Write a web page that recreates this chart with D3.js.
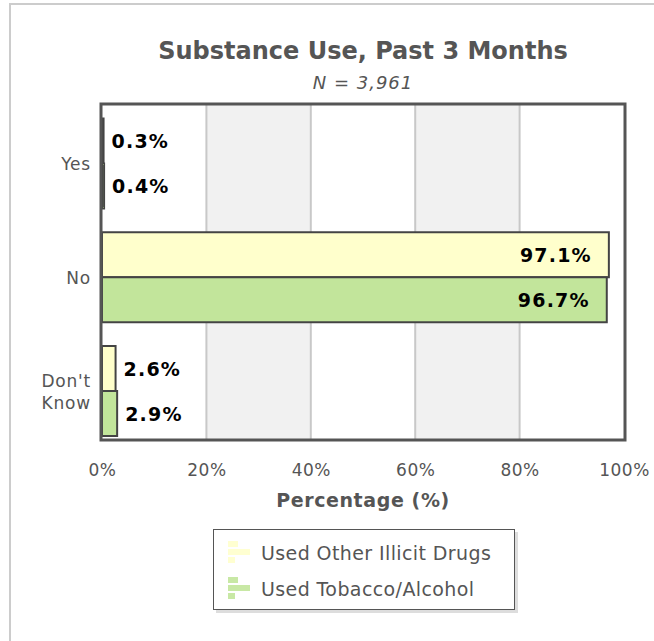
<!DOCTYPE html>
<html><head><meta charset="utf-8">
<script src="https://cdn.jsdelivr.net/npm/d3@7"></script>
<style>body{margin:0;background:#fff;}svg{display:block;font-family:"DejaVu Sans",Verdana,sans-serif;}</style>
</head><body>
<svg id="c" width="654" height="641"></svg>
<script>
const categories = ["Yes", "No", "Don't Know"];
const seriesNames = ["Used Other Illicit Drugs", "Used Tobacco/Alcohol"];
const illicit = [0.3, 97.1, 2.6];
const tobacco = [0.4, 96.7, 2.9];
const xTicks = [0, 20, 40, 60, 80, 100];
const colors = ["#ffffcc", "#c2e59b"];
const series = [illicit, tobacco];

const svg = d3.select("#c");
const FF = "DejaVu Sans, Verdana, sans-serif";
// outer frame
svg.append("rect").attr("x", 10).attr("y", 4).attr("width", 660).attr("height", 660)
  .attr("fill", "#fff").attr("stroke", "#cccccc").attr("stroke-width", 2);

const L = 102, R = 624, T = 105, B = 439;
const x = d3.scaleLinear().domain([0, 100]).range([L, R]);
const y = d3.scalePoint().domain(categories).range([163.5, 391]);
const barH = 45;

// bands
for (let i = 0; i < xTicks.length - 1; i++) {
  if (i % 2 === 1) svg.append("rect").attr("x", x(xTicks[i])).attr("y", T).attr("width", x(xTicks[i+1]) - x(xTicks[i])).attr("height", B - T).attr("fill", "#f1f1f1");
}
xTicks.slice(1, -1).forEach(t => svg.append("line").attr("x1", x(t)).attr("x2", x(t)).attr("y1", T).attr("y2", B).attr("stroke", "#c8c8c8").attr("stroke-width", 2));

// bars
series.forEach((vals, si) => {
  svg.append("g").selectAll("rect").data(vals).join("rect")
    .attr("x", x(0))
    .attr("y", (d, i) => y(categories[i]) - barH + si * barH)
    .attr("width", d => x(d) - x(0))
    .attr("height", barH)
    .attr("fill", colors[si])
    .attr("stroke", "#444").attr("stroke-width", 2);
  svg.append("g").selectAll("text").data(vals).join("text")
    .attr("x", d => d > 50 ? x(d) - 17 : x(d) + 8)
    .attr("y", (d, i) => y(categories[i]) - barH / 2 + si * barH + 7)
    .attr("text-anchor", d => d > 50 ? "end" : "start")
    .attr("font-size", 19).attr("letter-spacing", 1.2).attr("font-weight", "bold").attr("fill", "#000")
    .text(d => d.toFixed(1) + "%");
});

// frame
svg.append("rect").attr("x", L - 1).attr("y", T - 1).attr("width", R - L + 2).attr("height", B - T + 2)
  .attr("fill", "none").attr("stroke", "#555").attr("stroke-width", 3);

// x axis
const xa = svg.append("g").attr("transform", `translate(0,${B + 2})`)
  .call(d3.axisBottom(x).tickValues(xTicks).tickFormat(d => d + "%").tickSize(0).tickPadding(23));
xa.select(".domain").remove();
xa.selectAll("text").attr("font-size", 17).attr("letter-spacing", 0.5).attr("fill", "#555").attr("font-family", FF);

// y axis
const ya = svg.append("g").attr("transform", `translate(${L - 2},0)`)
  .call(d3.axisLeft(y).tickSize(0).tickPadding(9).tickFormat(""));
ya.select(".domain").remove();
ya.selectAll(".tick").each(function(d) {
  const lines = d === "Don't Know" ? ["Don't", "Know"] : [d];
  const t = d3.select(this).append("text").attr("text-anchor", "end").attr("fill", "#555").attr("font-size", 17).attr("letter-spacing", 0.8).attr("font-family", FF);
  lines.forEach((ln, i) => t.append("tspan").attr("x", -9).attr("y", (i - (lines.length - 1) / 2) * 22 + 6).text(ln));
});

// titles
const cx = (L + R) / 2;
svg.append("text").attr("x", cx).attr("y", 59).attr("text-anchor", "middle").attr("font-size", 24).attr("font-weight", "bold").attr("fill", "#555").text("Substance Use, Past 3 Months");
svg.append("text").attr("x", cx).attr("y", 89).attr("text-anchor", "middle").attr("font-size", 18).attr("letter-spacing", 1).attr("font-style", "italic").attr("fill", "#555").text("N = 3,961");
svg.append("text").attr("x", cx).attr("y", 507).attr("text-anchor", "middle").attr("font-size", 19).attr("letter-spacing", 0.6).attr("font-weight", "bold").attr("fill", "#555").text("Percentage (%)");

// legend
const lg = svg.append("g");
lg.append("rect").attr("x", 216).attr("y", 532).attr("width", 302).attr("height", 81).attr("fill", "#ddd");
lg.append("rect").attr("x", 213.5).attr("y", 529.5).attr("width", 301).attr("height", 80).attr("fill", "#fff").attr("stroke", "#555").attr("stroke-width", 1);
seriesNames.forEach((name, i) => {
  const yy = 553 + i * 36;
  const g = lg.append("g").attr("transform", `translate(228,${yy - 12})`);
  g.append("rect").attr("x", 0).attr("y", 0).attr("width", 10).attr("height", 6).attr("fill", colors[i]).attr("opacity", 0.9);
  g.append("rect").attr("x", 0).attr("y", 8).attr("width", 22).attr("height", 6).attr("fill", colors[i]).attr("opacity", 0.9);
  g.append("rect").attr("x", 0).attr("y", 16).attr("width", 7).attr("height", 6).attr("fill", colors[i]).attr("opacity", 0.9);
  lg.append("text").attr("x", 261).attr("y", yy + 7).attr("font-size", 19).attr("letter-spacing", 0.4).attr("fill", "#555").text(name);
});
</script>
</body></html>
